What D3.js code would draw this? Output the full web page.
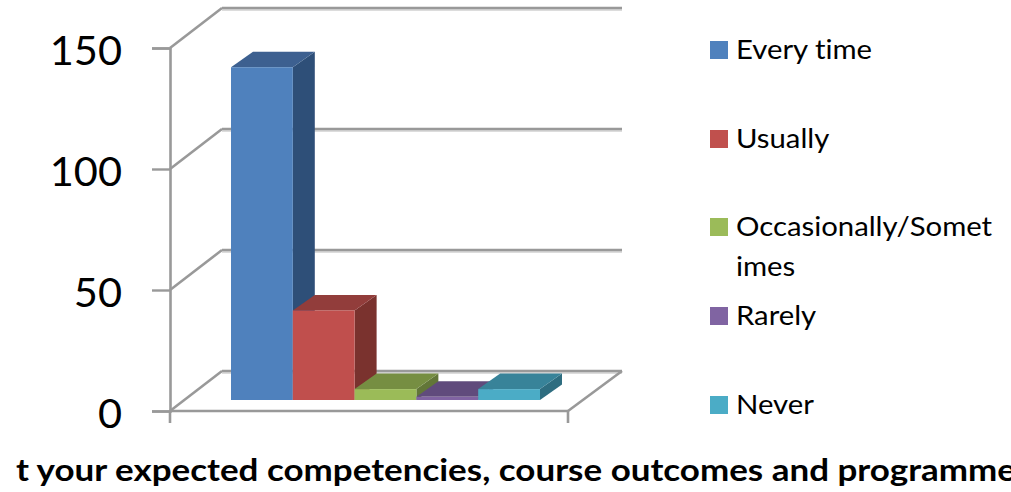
<!DOCTYPE html>
<html><head><meta charset="utf-8">
<script src="https://cdn.jsdelivr.net/npm/d3@7"></script>
<style>html,body{margin:0;padding:0;background:#fff;overflow:hidden}svg{display:block}text{font-family:Lato,"Open Sans",sans-serif;fill:#000;font-variant-ligatures:none}</style>
</head><body><svg id="c" width="1011" height="492"></svg>
<script>
const categories = ["Every time","Usually","Occasionally/Sometimes","Rarely","Never"];
const values = [137.5,37,4.5,1.3,4.5];
const yTicks = [0,50,100,150];
const legendLines = [["Every time"],["Usually"],["Occasionally/Somet","imes"],["Rarely"],["Never"]];
const legendTops = [41,130,218,307,396];
const colors = ["#4f81bd","#c0504d","#9bbb59","#8064a2","#4bacc6"];
const topColors = ["#3c6190","#923c3a","#768e43","#614c7b","#398399"];
const sideColors = ["#2f4f78","#7a302e","#627639","#503f67","#2f6d80"];
const titleText = "t your expected competencies, course outcomes and programme";

const svg = d3.select("#c");
const defs = svg.append("defs");
defs.append("filter").attr("id","soft").append("feGaussianBlur").attr("stdDeviation",0.6);
const y = d3.scaleLinear().domain([0,150]).range([411,48]);
const barH = v => y(0)-y(v);
const x = d3.scaleBand().domain(categories).range([231,540]).padding(0);
const floorY = 400, dx = 22, dy = -15.5;
const wallX = 170, wallRight = 568, bx = 52, by = -40;

const g = svg.append("g").attr("filter","url(#soft)");
const gridColor = "#999999";
const ln = (x1,y1,x2,y2,w=2.6,c=gridColor)=>g.append("line").attr("x1",x1).attr("y1",y1).attr("x2",x2).attr("y2",y2).attr("stroke",c).attr("stroke-width",w);

// walls and floor
yTicks.forEach(t=>{
  ln(wallX,y(t),wallX+bx,y(t)+by);
  ln(wallX+bx,y(t)+by+2,622,y(t)+by+2,2,"#dcdcdc");
  ln(wallX+bx,y(t)+by,622,y(t)+by);
});
ln(wallRight,y(0),622,y(0)+by);

// y axis
const axis = svg.append("g").attr("transform",`translate(${wallX},0)`)
  .call(d3.axisLeft(y).tickValues(yTicks).tickSize(18).tickPadding(30).tickFormat(d3.format("d")));
axis.select(".domain").attr("stroke",gridColor).attr("stroke-width",2.6);
axis.selectAll(".tick line").attr("stroke",gridColor).attr("stroke-width",2.4);
axis.selectAll("text").attr("font-size",41.5).attr("fill","#000").style("font-family","Lato").attr("dy","0.4em");

// front floor edge and category ticks
ln(wallX,y(0),wallRight,y(0),2.6);
[wallX,wallRight].forEach(px=>ln(px,y(0),px,y(0)+12,2.6));

// bars
categories.forEach((c,i)=>{
  const x0 = x(c), w = x.bandwidth(), top = floorY-barH(values[i]);
  const b = g.append("g");
  b.append("path").attr("fill",sideColors[i])
    .attr("d",d3.line()([[x0+w,top],[x0+w+dx,top+dy],[x0+w+dx,floorY+dy],[x0+w,floorY]]));
  b.append("path").attr("fill",topColors[i])
    .attr("d",d3.line()([[x0,top],[x0+dx,top+dy],[x0+w+dx,top+dy],[x0+w,top]]));
  b.append("rect").attr("x",x0).attr("y",top).attr("width",w).attr("height",barH(values[i])).attr("fill",colors[i]);
});

// legend
categories.forEach((c,i)=>{
  svg.append("rect").attr("x",710).attr("y",legendTops[i]).attr("width",18).attr("height",18).attr("fill",colors[i]);
  const t = svg.append("text").attr("transform",`translate(736,${legendTops[i]+18}) scale(1.085,1)`).attr("font-size",27);
  legendLines[i].forEach((s,j)=>t.append("tspan").attr("x",0).attr("dy",j?40:0).text(s));
});

// clipped title
svg.append("text").attr("x",16).attr("y",481).attr("font-size",30).attr("font-weight",700)
  .attr("textLength",1000).attr("lengthAdjust","spacingAndGlyphs").text(titleText);
</script></body></html>
